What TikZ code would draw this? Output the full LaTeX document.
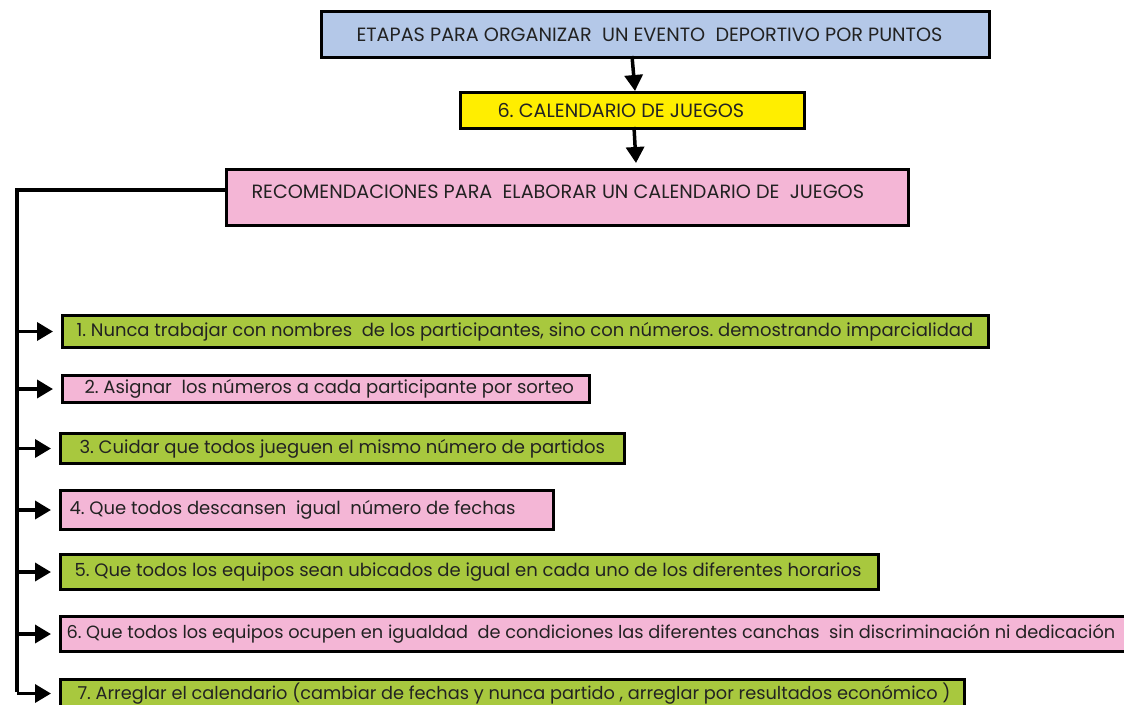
\documentclass[tikz,border=0pt]{standalone}
\usepackage{fontspec}
\setmainfont{Poppins}
\usetikzlibrary{arrows.meta}
\frenchspacing
\definecolor{cblue}{HTML}{B4C8E8}
\definecolor{cyellow}{HTML}{FFEE00}
\definecolor{cpink}{HTML}{F4B6D6}
\definecolor{cgreen}{HTML}{A8C83E}
\definecolor{ink}{HTML}{222222}
% left-set line of given width that never wraps
\newcommand{\lline}[2]{\makebox[#1][l]{#2}}
\tikzset{
  box/.style={draw=black, line width=3pt, anchor=north west, inner ysep=0pt,
    font=\fontsize{18}{21}\selectfont, text=ink},
  headbox/.style={box, font=\fontsize{19.2}{22}\selectfont},
  smallbox/.style={box, font=\fontsize{17.75}{21}\selectfont},
  link/.style={draw=black, line width=3.5pt, -{Triangle[length=16pt,width=18pt]}},
  trunk/.style={draw=black, line width=3.2pt}
}
\begin{document}
\begin{tikzpicture}[x=1pt,y=-1pt]
\useasboundingbox (0,0) rectangle (1124,704);

% title chain
\node[headbox, fill=cblue, minimum width=668pt, minimum height=46pt, inner xsep=35pt]
  (etapas) at (320,10) {\lline{598pt}{ETAPAS PARA ORGANIZAR~ UN EVENTO~ DEPORTIVO POR PUNTOS}};
\node[headbox, fill=cyellow, minimum width=344pt, minimum height=36pt, inner xsep=37pt]
  (cal) at (459,91) {\lline{270pt}{6. CALENDARIO DE JUEGOS}};
\node[headbox, fill=cpink, minimum width=682pt, inner xsep=25pt,
  text height=29pt, text depth=27pt]
  (recom) at (225,168) {\lline{632pt}{RECOMENDACIONES PARA~ ELABORAR UN CALENDARIO DE~ JUEGOS}};

\draw[link] (632,56) -- (635,91);
\draw[link] (634,127) -- (636,163);

% recommendations
\node[box, fill=cgreen, minimum width=926pt, minimum height=32pt, inner xsep=14pt]
  (r1) at (61,314) {\lline{898pt}{1. Nunca trabajar con nombres~ de los participantes, sino con números. demostrando imparcialidad}};
\node[box, fill=cpink, minimum width=527pt, minimum height=27pt, inner xsep=22pt]
  (r2) at (61,374) {\lline{483pt}{2. Asignar~ los números a cada participante por sorteo}};
\node[box, fill=cgreen, minimum width=564pt, minimum height=30pt, inner xsep=19pt]
  (r3) at (59,432) {\lline{526pt}{3. Cuidar que todos jueguen el mismo número de partidos}};
\node[box, fill=cpink, minimum width=493pt, minimum height=39pt, inner xsep=9pt]
  (r4) at (59,489) {\lline{475pt}{4. Que todos descansen~ igual~ número de fechas}};
\node[box, fill=cgreen, minimum width=818pt, minimum height=35pt, inner xsep=14pt]
  (r5) at (59,553) {\lline{790pt}{5. Que todos los equipos sean ubicados de igual en cada uno de los diferentes horarios}};
\node[smallbox, fill=cpink, minimum width=1100pt, minimum height=35pt, inner xsep=6pt]
  (r6) at (59,615) {\lline{1088pt}{6. Que todos los equipos ocupen en igualdad~ de condiciones las diferentes canchas~ sin discriminación ni dedicación}};
\node[smallbox, fill=cgreen, minimum width=904pt, minimum height=28pt, inner xsep=17pt]
  (r7) at (59,678) {\lline{870pt}{7. Arreglar el calendario (cambiar de fechas y nunca partido , arreglar por resultados económico )}};

% trunk line and branches
\coordinate (top) at (17,190);
\coordinate (bot) at (17,692);
\draw[trunk] (recom.west |- top) -- (top) -- (bot);
\foreach \n in {r1,r2,r3,r4,r5,r6,r7}
  \draw[link] (top |- \n.west) -- ([xshift=-8pt]\n.west);
\end{tikzpicture}
\end{document}
